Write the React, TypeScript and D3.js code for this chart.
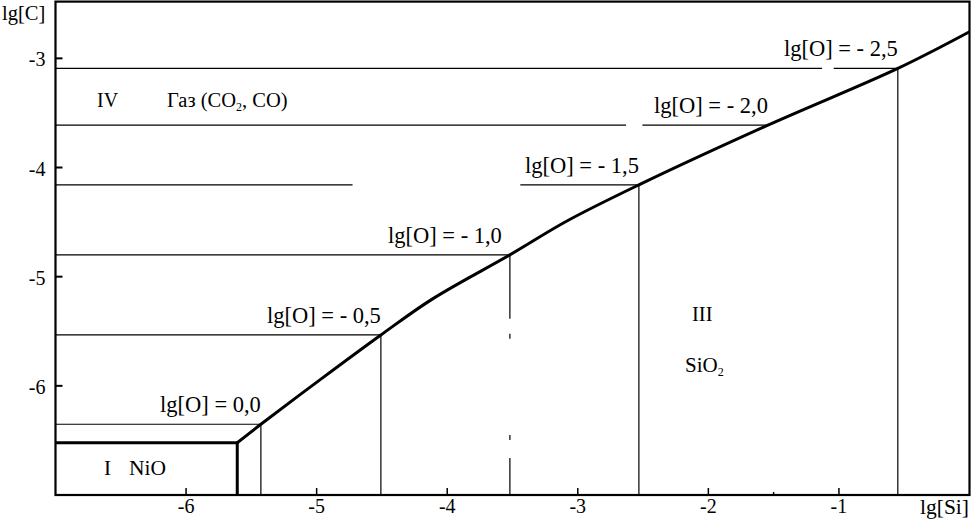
import React from "react";
import * as d3 from "d3";

// ---- data ----
const xTicks = [-6, -5, -4, -3, -2, -1];
const xMinorTicks = [-1.5];
const yTicks = [-3, -4, -5, -6];

// phase boundary (thick curve): lg[Si] vs lg[C]
const boundarySi = [-5.608, -5.427, -4.975, -4.508, -4.109, -3.52, -3.083, -2.532, -1.544, -0.549, 0.0];
const boundaryC = [-6.521, -6.352, -5.945, -5.534, -5.201, -4.8, -4.49, -4.159, -3.612, -3.092, -2.756];

// NiO region corner
const nioSi = -5.608;
const nioC = -6.521;

// iso-oxygen lines
const isoLabels = ["lg[O] = 0,0", "lg[O] = - 0,5", "lg[O] = - 1,0", "lg[O] = - 1,5", "lg[O] = - 2,0", "lg[O] = - 2,5"];
const isoSi = [-5.427, -4.508, -3.52, -2.532, -1.544, -0.549];
const isoC = [-6.352, -5.534, -4.8, -4.159, -3.612, -3.092];
// horizontal segments [from, to] in lg[Si]
const isoSegments: number[][][] = [
  [[-7, -5.427]],
  [[-7, -4.508]],
  [[-7, -3.52]],
  [[-7, -4.725], [-3.44, -2.532]],
  [[-7, -2.63], [-2.505, -1.544]],
  [[-7, -1.13], [-1.04, -0.549]],
];
const isoHasVertical = [true, true, true, true, false, true];
// broken vertical (lg[O] = -1,0) pieces in lg[C]
const brokenVertical = [[-4.8, -5.385], [-5.523, -5.569], [-6.45, -6.496], [-6.661, -7]];

// ---- layout ----
const W = 972;
const H = 521;
const FONT = "'Liberation Serif', 'Times New Roman', serif";
const x = d3.scaleLinear().domain([-7, 0]).range([55.5, 969.5]);
const y = d3.scaleLinear().domain([-7, -2.48]).range([495, 1.6]);
const labelShift = [0, 0, -8, 0, 0, 0];

export default function App() {
  const line = d3
    .line<number>()
    .x((_, i) => x(boundarySi[i]))
    .y((d) => y(d))
    .curve(d3.curveCatmullRom.alpha(0.5));
  const curvePath = line(boundaryC) || "";

  return (
    <svg
      width={W}
      height={H}
      style={{ position: "absolute", left: 0, top: 0, background: "#fff" }}
      fontFamily={FONT}
    >
      <rect x={0} y={0} width={W} height={H} fill="#fff" />
      {/* iso lines */}
      {isoSegments.map((segs, i) =>
        segs.map((s, j) => (
          <line
            key={`h${i}-${j}`}
            x1={x(s[0])}
            x2={x(s[1])}
            y1={y(isoC[i])}
            y2={y(isoC[i])}
            stroke="#000"
            strokeWidth={1.2}
          />
        ))
      )}
      {isoSi.map((v, i) =>
        isoHasVertical[i] && i !== 2 ? (
          <line key={`v${i}`} x1={x(v)} x2={x(v)} y1={y(isoC[i])} y2={y(-7)} stroke="#000" strokeWidth={1.2} />
        ) : null
      )}
      {brokenVertical.map((s, j) => (
        <line key={`bv${j}`} x1={x(isoSi[2])} x2={x(isoSi[2])} y1={y(s[0])} y2={y(s[1])} stroke="#000" strokeWidth={1.2} />
      ))}
      {/* NiO box */}
      <polyline
        points={`${x(-7)},${y(nioC)} ${x(nioSi)},${y(nioC)} ${x(nioSi)},${y(-7)}`}
        fill="none"
        stroke="#000"
        strokeWidth={3}
      />
      {/* boundary curve */}
      <path d={curvePath} fill="none" stroke="#000" strokeWidth={3} />
      {/* frame */}
      <rect x={x(-7)} y={y(-2.48)} width={x(0) - x(-7)} height={y(-7) - y(-2.48)} fill="none" stroke="#000" strokeWidth={2.2} />
      {/* ticks */}
      {yTicks.map((t) => (
        <g key={`yt${t}`}>
          <line x1={x(-7)} x2={x(-7) + 7} y1={y(t)} y2={y(t)} stroke="#000" strokeWidth={2} />
          <text x={x(-7) - 10} y={y(t) + 8} textAnchor="end" fontSize={20}>
            {String(t)}
          </text>
        </g>
      ))}
      {xTicks.map((t) => (
        <g key={`xt${t}`}>
          <line x1={x(t)} x2={x(t)} y1={y(-7)} y2={y(-7) - 7} stroke="#000" strokeWidth={1.5} />
          <text x={x(t)} y={513} textAnchor="middle" fontSize={20}>
            {String(t)}
          </text>
        </g>
      ))}
      {xMinorTicks.map((t) => (
        <line key={`xm${t}`} x1={x(t)} x2={x(t)} y1={y(-7)} y2={y(-7) - 3} stroke="#000" strokeWidth={1.5} />
      ))}
      {/* axis titles */}
      <text x={2} y={20} fontSize={20.5}>lg[C]</text>
      <text x={969} y={514} textAnchor="end" fontSize={21.5}>lg[Si]</text>
      {/* iso labels */}
      {isoLabels.map((l, i) => (
        <text key={`l${i}`} x={x(isoSi[i]) + labelShift[i]} y={y(isoC[i]) - 12} textAnchor="end" fontSize={22.5}>
          {l}
        </text>
      ))}
      {/* region labels */}
      <text x={97} y={107} fontSize={20}>IV</text>
      <text x={167} y={107} fontSize={20.5}>
        Газ (CO<tspan fontSize={12} dy={4}>2</tspan>
        <tspan dy={-4}>, CO)</tspan>
      </text>
      <text x={692} y={321} fontSize={20.5}>III</text>
      <text x={685} y={372} fontSize={21}>
        SiO<tspan fontSize={12} dy={4}>2</tspan>
      </text>
      <text x={104} y={475} fontSize={21}>I</text>
      <text x={129} y={475} fontSize={21.5}>NiO</text>
    </svg>
  );
}
